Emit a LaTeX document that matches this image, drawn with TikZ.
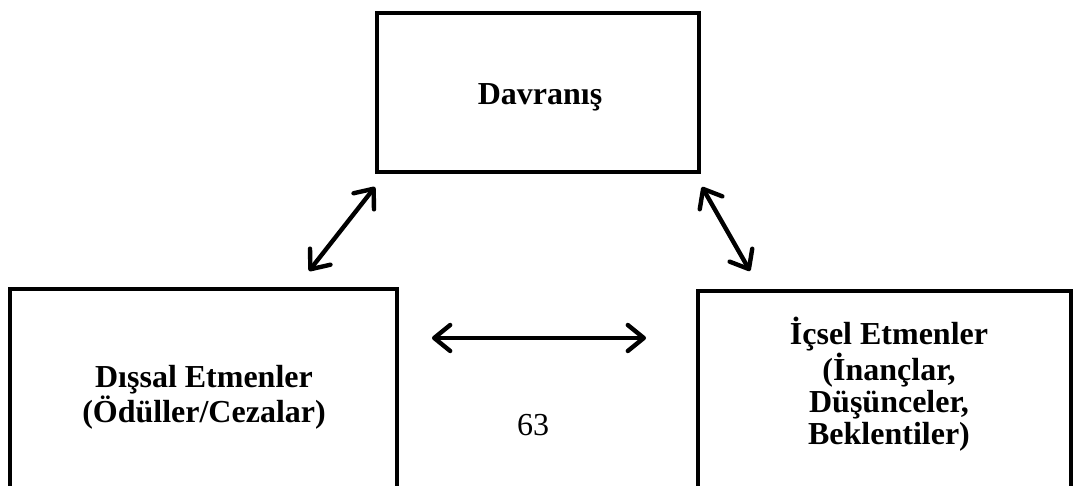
\documentclass[tikz,border=0pt]{standalone}
\usepackage{fontspec}
\setmainfont{Liberation Serif}
\usetikzlibrary{positioning,calc,arrows.meta}
\tikzset{kutu/.style={draw, line width=2pt, inner sep=0pt}}
\tikzset{yazi/.style={font=\bfseries\fontsize{16}{16}\selectfont, align=center, inner sep=0pt}}
\tikzset{ok/.style={draw, line width=2.2pt, line cap=round, {Straight Barb[round,length=8pt,width=13pt]}-{Straight Barb[round,length=8pt,width=13pt]}}}

\begin{document}
\begin{tikzpicture}[x=0.5pt,y=-0.5pt]
			\useasboundingbox (0,0) rectangle (1073,486);
			\clip (0,0) rectangle (1073,486);
			\node[kutu, minimum width=161pt, minimum height=79.5pt] (dav) at (538,92.5) {};
			\node[yazi] (davyazi) at (540,97) {Davranış};
			\node[kutu, minimum width=193.5pt, minimum height=105.5pt] (dis) at (203.5,394.5) {};
			\node[yazi] (disyazi) at (204,397) {Dışsal Etmenler\\(Ödüller/Cezalar)};
			\node[kutu, minimum width=186.5pt, minimum height=104.5pt] (ic) at (884.5,395.5) {};
			\node[yazi] (icyazi) at (889,384.5) {İçsel Etmenler\\(İnançlar,\\Düşünceler,\\Beklentiler)};
			\node[font=\fontsize{16}{16}\selectfont, inner sep=0pt] (sayfa) at (533,425) {63};
			\draw[ok] ($(dis.north east)+(-90,-16)$) -- ($(dav.south west)+(0,13)$);
			\draw[ok] ($(dav.south east)+(1,13)$) -- ($(ic.north west)+(54,-18)$);
			\draw[ok] ($(dis.north east)+(33,51)$) -- ($(ic.north west)+(-50,49)$);
		\end{tikzpicture}
\end{document}
